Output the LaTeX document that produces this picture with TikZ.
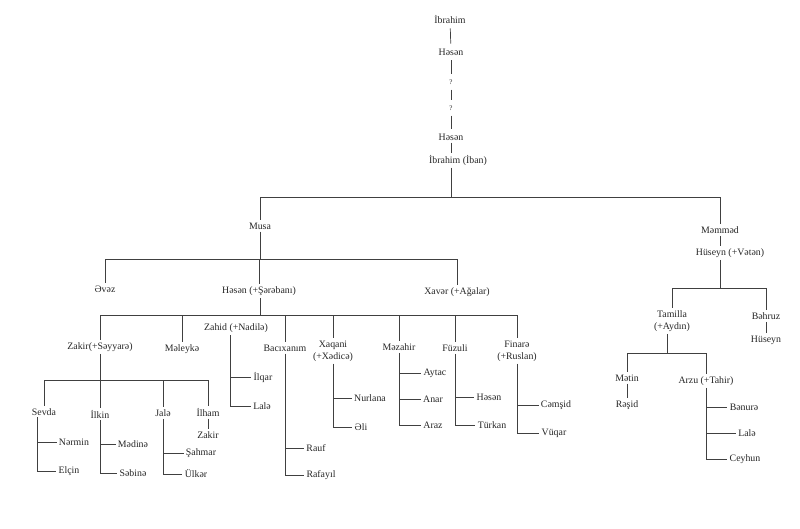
\documentclass[tikz,border=0pt]{standalone}
\usepackage{fontspec}
\setmainfont{Liberation Serif}
\usetikzlibrary{calc}
\tikzset{
name node/.style={inner sep=1.5pt,font=\fontsize{7}{8.5}\selectfont,text=black!85},
two node/.style={name node,align=center},
ramo/.style={draw=black!75,line width=0.5pt},
catena/.style={ramo,shorten >=2pt,shorten <=2pt}}

\begin{document}
\begin{tikzpicture}[x=0.025cm,y=-0.025cm]
\useasboundingbox (0,0) rectangle (800,528);

\node[name node] (ibr1) at (450,19) {İbrahim};
\node[name node] (hes1) at (451,52) {Həsən};
\node[name node,font=\fontsize{5}{6}\selectfont] (q1) at (451,82) {?};
\node[name node,font=\fontsize{5}{6}\selectfont] (q2) at (451,108) {?};
\node[name node] (hes2) at (451,137) {Həsən};
\node[name node] (iban) at (458,160) {İbrahim (İban)};

\node[name node] (musa) at (260,226) {Musa};
\node[name node] (memmed) at (720,230) {Məmməd};
\node[name node] (huseyn1) at (730,253) {Hüseyn (+Vətən)};

\node[name node] (evez) at (105,289) {Əvəz};
\node[name node] (hesen3) at (259,291) {Həsən (+Şərəbanı)};
\node[name node] (xaver) at (457,292) {Xavər (+Ağalar)};

\node[name node] (zakir1) at (100,347) {Zakir(+Səyyarə)};
\node[name node] (meleyke) at (182,349) {Məleykə};
\node[name node] (zahid) at (236,328) {Zahid (+Nadilə)};
\node[name node] (bacixanim) at (285,348) {Bacıxanım};
\node[two node] (xaqani) at (333,351) {Xaqani\\(+Xədicə)};
\node[name node] (mezahir) at (399,347) {Məzahir};
\node[name node] (fuzuli) at (455,348) {Füzuli};
\node[two node] (finare) at (517,351) {Finarə\\(+Ruslan)};

\node[name node] (sevda) at (44,412) {Sevda};
\node[name node] (ilkin) at (100,414) {İlkin};
\node[name node] (jale) at (163,413) {Jalə};
\node[name node] (ilham) at (208,412) {İlham};
\node[name node] (zakir2) at (208,435) {Zakir};
\node[name node] (nermin) at (74,442) {Nərmin};
\node[name node] (elcin) at (69,471) {Elçin};
\node[name node] (medine) at (133,444) {Mədinə};
\node[name node] (sebine) at (133,473) {Səbinə};
\node[name node] (sahmar) at (201,453) {Şahmar};
\node[name node] (ulker) at (196,474) {Ülkər};

\node[name node] (ilqar) at (263,377) {İlqar};
\node[name node] (lale1) at (262,406) {Lalə};
\node[name node] (rauf) at (316,448) {Rauf};
\node[name node] (rafayil) at (321,475) {Rafayıl};
\node[name node] (nurlana) at (370,398) {Nurlana};
\node[name node] (eli) at (361,427) {Əli};
\node[name node] (aytac) at (435,373) {Aytac};
\node[name node] (anar) at (433,399) {Anar};
\node[name node] (araz) at (433,425) {Araz};
\node[name node] (hesen4) at (489,397) {Həsən};
\node[name node] (turkan) at (492,425) {Türkan};
\node[name node] (cemsid) at (556,405) {Cəmşid};
\node[name node] (vuqar) at (554,433) {Vüqar};

\node[two node] (tamilla) at (672,321) {Tamilla\\(+Aydın)};
\node[name node] (behruz) at (766,316) {Bəhruz};
\node[name node] (huseyn2) at (766,340) {Hüseyn};
\node[name node] (metin) at (627,378) {Mətin};
\node[name node] (resid) at (627,405) {Rəşid};
\node[name node] (arzu) at (706,381) {Arzu (+Tahir)};
\node[name node] (benure) at (744,407) {Bənurə};
\node[name node] (lale2) at (747,433) {Lalə};
\node[name node] (ceyhun) at (745,459) {Ceyhun};

\coordinate (topbar) at (451,197);
\coordinate (musabar) at (260,259);
\coordinate (hesenbar) at (260,315);
\coordinate (zakirbar) at (98,380);
\coordinate (huseynbar) at (720,288);
\coordinate (tamillabar) at (667,353);
\coordinate (sevdat) at (37,417);
\coordinate (zahidt) at (230,335);

\draw[catena] (ibr1) -- (hes1);
\draw[catena] (hes1) -- (q1);
\draw[catena] (q1) -- (q2);
\draw[catena] (q2) -- (hes2);
\draw[ramo] (hes2.south) -- (hes2 |- iban.north);
\draw[ramo] (iban.south -| topbar) -- (topbar);
\draw[ramo] (musa.north |- topbar) -- (memmed.north |- topbar);
\draw[ramo] (musa.north |- topbar) -- (musa.north);
\draw[ramo] (memmed.north |- topbar) -- (memmed.north);
\draw[ramo] (memmed.south) -- (memmed.south |- huseyn1.north);

\draw[ramo] (musa.south) -- (musabar);
\draw[ramo] (evez.north |- musabar) -- (xaver.north |- musabar);
\draw[ramo] (evez.north |- musabar) -- (evez.north);
\draw[ramo] (hesen3.north |- musabar) -- (hesen3.north);
\draw[ramo] (xaver.north |- musabar) -- (xaver.north);

\draw[ramo] (hesen3.south -| hesenbar) -- (hesenbar);
\draw[ramo] (zakir1.north |- hesenbar) -- (finare.north |- hesenbar);
\draw[ramo] (zakir1.north |- hesenbar) -- (zakir1.north);
\draw[ramo] (meleyke.north |- hesenbar) -- (meleyke.north);
\draw[ramo] (bacixanim.north |- hesenbar) -- (bacixanim.north);
\draw[ramo] (xaqani.north |- hesenbar) -- (xaqani.north);
\draw[ramo] (mezahir.north |- hesenbar) -- (mezahir.north);
\draw[ramo] (fuzuli.north |- hesenbar) -- (fuzuli.north);
\draw[ramo] (finare.north |- hesenbar) -- (finare.north);

\draw[ramo] (zakir1.south) -- (zakir1.south |- zakirbar);
\draw[ramo] (sevda.north |- zakirbar) -- (ilham.north |- zakirbar);
\draw[ramo] (sevda.north |- zakirbar) -- (sevda.north);
\draw[ramo] (ilkin.north |- zakirbar) -- (ilkin.north);
\draw[ramo] (jale.north |- zakirbar) -- (jale.north);
\draw[ramo] (ilham.north |- zakirbar) -- (ilham.north);
\draw[ramo] (ilham) -- (zakir2);

\draw[ramo] (sevdat) |- (elcin.west);
\draw[ramo] (sevdat |- nermin) -- (nermin.west);
\draw[ramo] (ilkin.south) |- (sebine.west);
\draw[ramo] (ilkin.south |- medine) -- (medine.west);
\draw[ramo] (jale.south) |- (ulker.west);
\draw[ramo] (jale.south |- sahmar) -- (sahmar.west);

\draw[ramo] (zahidt) |- (lale1.west);
\draw[ramo] (zahidt |- ilqar) -- (ilqar.west);
\draw[ramo] (bacixanim.south) |- (rafayil.west);
\draw[ramo] (bacixanim.south |- rauf) -- (rauf.west);
\draw[ramo] (xaqani.south) |- (eli.west);
\draw[ramo] (xaqani.south |- nurlana) -- (nurlana.west);
\draw[ramo] (mezahir.south) |- (araz.west);
\draw[ramo] (mezahir.south |- aytac) -- (aytac.west);
\draw[ramo] (mezahir.south |- anar) -- (anar.west);
\draw[ramo] (fuzuli.south) |- (turkan.west);
\draw[ramo] (fuzuli.south |- hesen4) -- (hesen4.west);
\draw[ramo] (finare.south) |- (vuqar.west);
\draw[ramo] (finare.south |- cemsid) -- (cemsid.west);

\draw[ramo] (huseyn1.south -| huseynbar) -- (huseynbar);
\draw[ramo] (tamilla.north |- huseynbar) -- (behruz.north |- huseynbar);
\draw[ramo] (tamilla.north |- huseynbar) -- (tamilla.north);
\draw[ramo] (behruz.north |- huseynbar) -- (behruz.north);
\draw[ramo] (behruz) -- (huseyn2);

\draw[ramo] (tamilla.south -| tamillabar) -- (tamillabar);
\draw[ramo] (metin.north |- tamillabar) -- (arzu.north |- tamillabar);
\draw[ramo] (metin.north |- tamillabar) -- (metin.north);
\draw[ramo] (arzu.north |- tamillabar) -- (arzu.north);
\draw[ramo] (metin) -- (resid);
\draw[ramo] (arzu.south) |- (ceyhun.west);
\draw[ramo] (arzu.south |- benure) -- (benure.west);
\draw[ramo] (arzu.south |- lale2) -- (lale2.west);

\end{tikzpicture}
\end{document}
